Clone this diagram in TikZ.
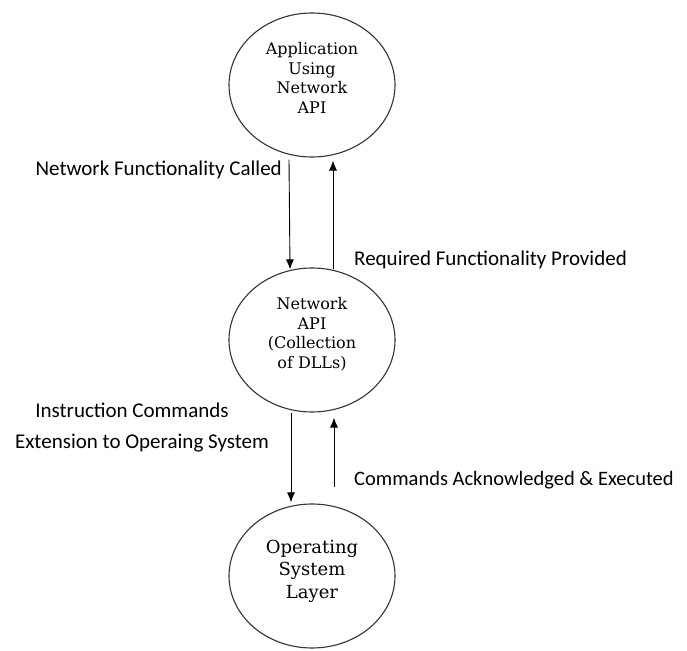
\documentclass[tikz,border=0pt]{standalone}
\usepackage{fontspec}
\setmainfont{DejaVu Serif}
\newfontfamily\lblfont{Carlito}
\usetikzlibrary{shapes.geometric,arrows.meta,calc}

\begin{document}
\begin{tikzpicture}[
x=1pt,y=1pt,
layer/.style={
    ellipse,minimum width=166pt,minimum height=144pt,inner sep=0pt,line width=1.1pt,draw=black!80
},
layertxt/.style={
    align=center,inner sep=0pt,font=\fontsize{16}{19.5}\selectfont
},
lbl/.style={
    inner sep=0pt,font=\lblfont\fontsize{21}{25}\selectfont
},
flow/.style={
    -{Latex[length=10pt,width=8pt]},line width=0.9pt
}
]
    \useasboundingbox (0,0) rectangle (687,650);

    % the three layers
    \node(app)[layer] at (312,565){};
    \node(api)[layer] at (312,310){};
    \node(os)[layer] at (312,74){};
    \node(appTxt)[layertxt] at (312,572){Application\\Using\\Network\\API};
    \node(apiTxt)[layertxt] at (312,316){Network\\API\\(Collection\\of DLLs)};
    \node(osTxt)[layertxt,font=\fontsize{18}{22.5}\selectfont] at (312,79){Operating\\System\\Layer};

    % calls between the layers
    \draw[flow] ([xshift=-23,yshift=-2]app.south) to ([xshift=-22,yshift=-2]api.north);
    \draw[flow] ([xshift=21,yshift=-2]api.north) to ([xshift=21,yshift=-3]app.south);
    \draw[flow] ([xshift=-21]api.south) to ([xshift=-21,yshift=1]os.north);
    \draw[flow] ([xshift=22,yshift=16]os.north) to ([xshift=22,yshift=-5]api.south);

    \node(called)[lbl,anchor=east] at (282,480){Network Functionality Called};
    \node(provided)[lbl,anchor=west] at (354,390){Required Functionality Provided};
    \node(instr)[lbl] at (132,240){Instruction Commands};
    \node(ext)[lbl] at (142,207){Extension to Operaing System};
    \node(ack)[lbl,anchor=west,font=\lblfont\fontsize{20.5}{25}\selectfont] at (354,170){Commands Acknowledged \& Executed};
\end{tikzpicture}
\end{document}
